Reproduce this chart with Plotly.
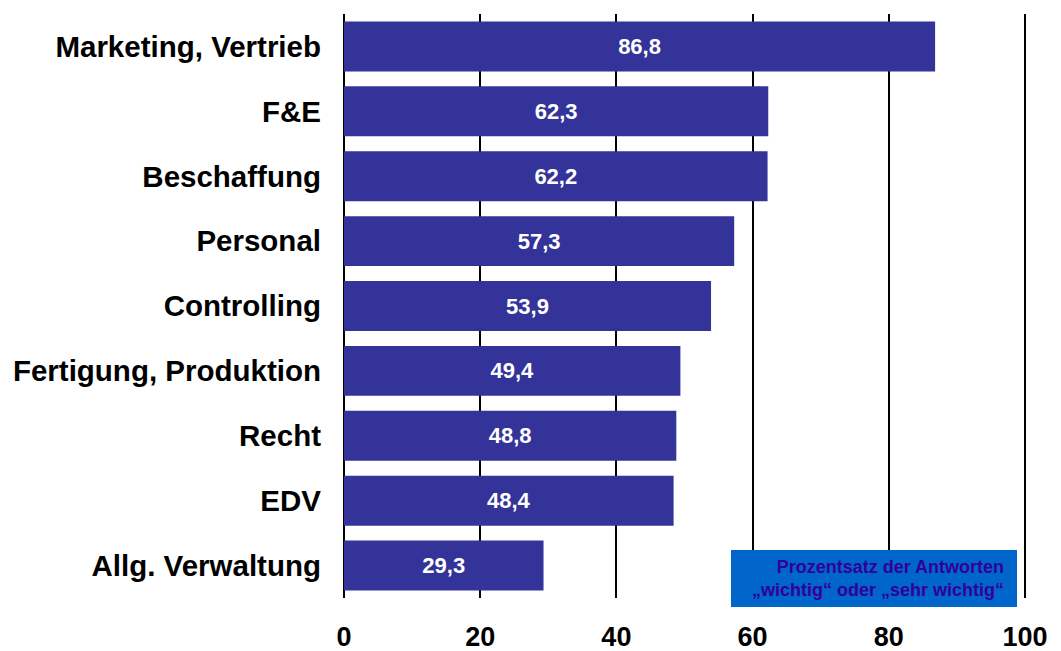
import plotly.graph_objects as go

categories = ["Marketing, Vertrieb", "F&E", "Beschaffung", "Personal", "Controlling",
              "Fertigung, Produktion", "Recht", "EDV", "Allg. Verwaltung"]
values = [86.8, 62.3, 62.2, 57.3, 53.9, 49.4, 48.8, 48.4, 29.3]
tick_vals = [0, 20, 40, 60, 80, 100]
tick_text = ["0", "20", "40", "60", "80", "100"]
labels = [f"{v:.1f}".replace(".", ",") for v in values]

FONT = "Liberation Sans, Arial, sans-serif"

fig = go.Figure()
fig.add_trace(go.Bar(
    y=categories, x=values, orientation="h",
    marker=dict(color="#333399", line=dict(width=0)),
    width=0.77,
    text=labels, textposition="inside", insidetextanchor="middle",
    textangle=0,
    textfont=dict(color="white", size=22, family=FONT, weight="bold"),
    cliponaxis=False,
))

fig.update_layout(
    width=1061, height=651,
    margin=dict(l=344, r=35, t=14, b=53, autoexpand=False),
    paper_bgcolor="white", plot_bgcolor="white",
    showlegend=False,
    font=dict(family=FONT, color="black"),
    uniformtext=dict(minsize=8, mode="show"),
)
fig.update_xaxes(
    range=[0, 100.15], tickvals=tick_vals, ticktext=tick_text,
    showgrid=True, gridcolor="black", gridwidth=1.5,
    zeroline=True, zerolinecolor="black", zerolinewidth=1.5,
    tickfont=dict(size=27, family=FONT, weight="bold", color="black"),
    ticks="", ticklabelstandoff=20, showline=False, automargin=False,
)
fig.update_yaxes(
    categoryorder="array", categoryarray=categories[::-1],
    tickfont=dict(size=29.5, family=FONT, weight="bold", color="black"),
    ticks="", ticklabelstandoff=22, showgrid=False, showline=False, automargin=False,
)

fig.add_shape(type="rect", xref="paper", yref="paper",
              x0=(731 - 344) / 682, x1=(1017 - 344) / 682,
              y0=-(607 - 598) / 584, y1=(598 - 550) / 584,
              fillcolor="#0066CC", line=dict(width=0), layer="above")
fig.add_annotation(xref="paper", yref="paper",
                   x=(1006 - 344) / 682, y=(598 - 578) / 584,
                   xanchor="right", yanchor="middle", align="right",
                   text="Prozentsatz der Antworten<br>„wichtig“ oder „sehr wichtig“",
                   showarrow=False,
                   font=dict(size=18, color="#330099", family=FONT, weight="bold"))

fig.write_html("out.html", config={"displayModeBar": False},
               post_script="document.body.style.margin='0';document.body.style.overflow='hidden';")
